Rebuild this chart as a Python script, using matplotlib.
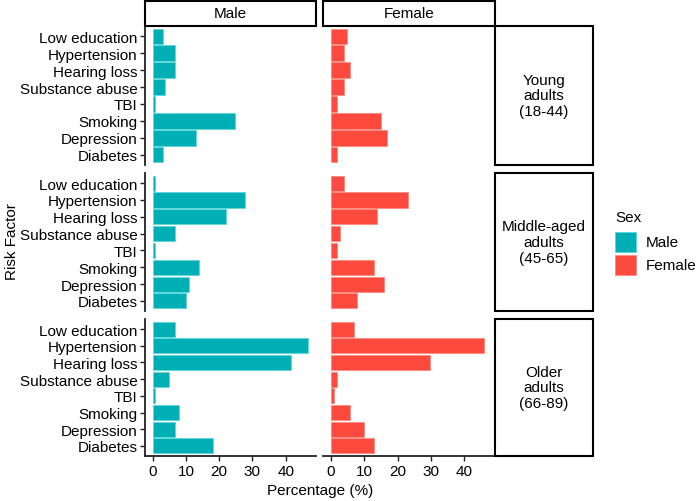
import numpy as np
import matplotlib
matplotlib.use('Agg')
import matplotlib.pyplot as plt
from matplotlib.patches import Rectangle

plt.rcParams['font.family'] = ['Liberation Sans', 'DejaVu Sans']
plt.rcParams['font.size'] = 11

# Data
factors = ['Low education', 'Hypertension', 'Hearing loss', 'Substance abuse',
           'TBI', 'Smoking', 'Depression', 'Diabetes']
age_groups = ['Young\nadults\n(18-44)', 'Middle-aged\nadults\n(45-65)', 'Older\nadults\n(66-89)']
sexes = ['Male', 'Female']

male_young = [3.0, 6.8, 6.8, 3.8, 0.8, 24.9, 12.9, 3.0]
male_middle = [0.8, 27.8, 21.9, 6.8, 0.8, 13.9, 10.9, 10.0]
male_older = [6.8, 46.8, 41.7, 5.0, 0.8, 8.0, 6.8, 18.0]
female_young = [4.9, 4.0, 5.8, 4.0, 1.9, 15.0, 16.8, 1.9]
female_middle = [4.0, 23.0, 13.8, 2.8, 1.9, 12.9, 15.9, 7.9]
female_older = [7.0, 45.8, 29.8, 1.9, 1.0, 5.8, 10.0, 13.0]

values = {
    'Male': [male_young, male_middle, male_older],
    'Female': [female_young, female_middle, female_older],
}
colors = {'Male': '#00AFB5', 'Female': '#FC4A3F'}
edges = {'Male': '#5fd8dc', 'Female': '#ff8a80'}

W, H = 700, 502
fig = plt.figure(figsize=(W / 100, H / 100), dpi=100)

def px_axes(x0, y0, x1, y1):
    # pixel box (top-left origin) -> figure axes
    return fig.add_axes([x0 / W, 1 - y1 / H, (x1 - x0) / W, (y1 - y0) / H])

col_x = [(145, 316), (323, 495)]
row_y = [(27, 166), (174, 312), (320, 457)]
xmax = max(max(max(v) for v in values[s]) for s in sexes)
pad = xmax * 0.05

for c, sex in enumerate(sexes):
    for r in range(3):
        x0, x1 = col_x[c]
        y0, y1 = row_y[r]
        ax = px_axes(x0, y0, x1, y1)
        ypos = np.arange(len(factors))
        ax.barh(ypos, values[sex][r], height=0.9, color=colors[sex],
                edgecolor=edges[sex], linewidth=0.6)
        ax.set_xlim(-pad, xmax + pad)
        ax.set_ylim(len(factors) - 0.4, -0.6)
        for s in ['top', 'right']:
            ax.spines[s].set_visible(False)
        ax.spines['left'].set_color('#222222')
        ax.spines['bottom'].set_color('#222222')
        ax.spines['left'].set_linewidth(1.3)
        ax.spines['bottom'].set_linewidth(1.3)
        ax.tick_params(color='#222222', length=3.5, width=1.0, labelsize=11, pad=2)
        if c == 0:
            ax.set_yticks(ypos)
            ax.set_yticklabels(factors)
        else:
            ax.spines['left'].set_visible(False)
            ax.set_yticks([])
        if r == 2:
            ax.set_xticks([0, 10, 20, 30, 40])
        else:
            ax.spines['bottom'].set_visible(False)
            ax.set_xticks([])

# top strips
for c, sex in enumerate(sexes):
    x0, x1 = col_x[c]
    fig.patches.append(Rectangle((x0 / W, 1 - 27 / H), (x1 - x0) / W, 25 / H,
                                 transform=fig.transFigure, facecolor='white',
                                 edgecolor='black', linewidth=1.5))
    fig.text((x0 + x1) / 2 / W, 1 - 14.5 / H, sex, ha='center', va='center', fontsize=11)

# right strips
for r, lab in enumerate(age_groups):
    y0, y1 = row_y[r]
    fig.patches.append(Rectangle((495 / W, 1 - y1 / H), 98 / W, (y1 - y0) / H,
                                 transform=fig.transFigure, facecolor='white',
                                 edgecolor='black', linewidth=1.5))
    fig.text(544 / W, 1 - (y0 + y1) / 2 / H, lab, ha='center', va='center',
             fontsize=11, linespacing=1.15)

# axis titles
fig.text(12 / W, 1 - 242 / H, 'Risk Factor', rotation=90, ha='center', va='center', fontsize=11)
fig.text(320 / W, 1 - 491 / H, 'Percentage (%)', ha='center', va='center', fontsize=11)

# legend
fig.text(615 / W, 1 - 218 / H, 'Sex', ha='left', va='center', fontsize=11)
for i, sex in enumerate(sexes):
    ky = 233 + i * 23
    fig.patches.append(Rectangle((615 / W, 1 - (ky + 20) / H), 21 / W, 20 / H,
                                 transform=fig.transFigure, facecolor=colors[sex],
                                 edgecolor=edges[sex], linewidth=0.6))
    fig.text(646 / W, 1 - (ky + 10) / H, sex, ha='left', va='center', fontsize=11)

fig.savefig('out.png', dpi=100)
